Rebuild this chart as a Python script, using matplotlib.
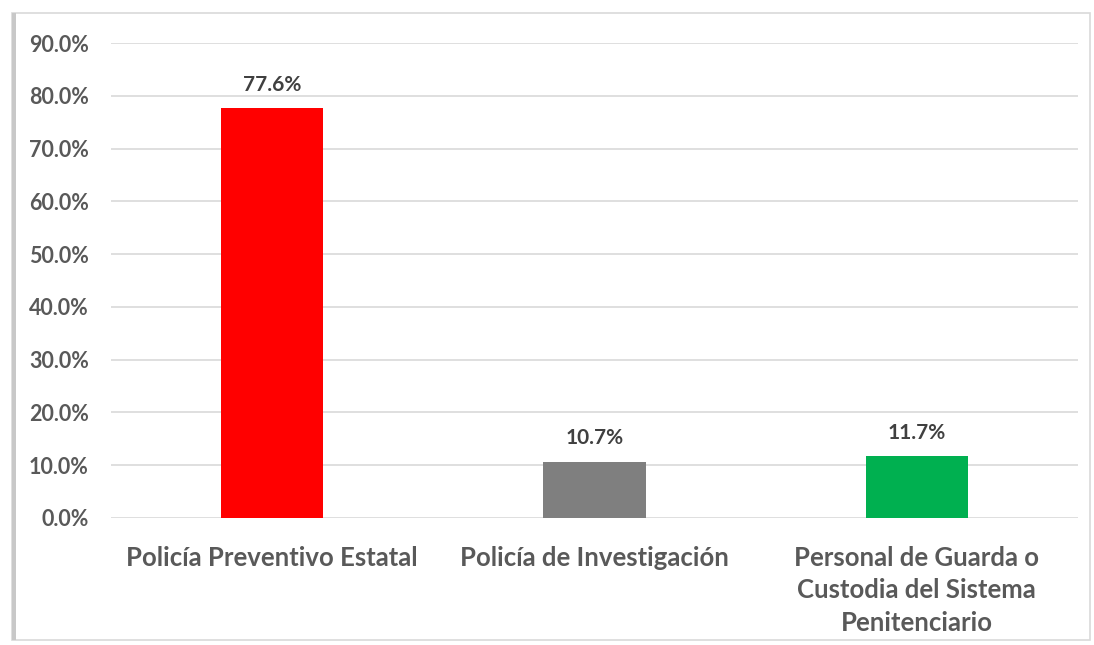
import matplotlib.pyplot as plt
from matplotlib.patches import Rectangle
from matplotlib.ticker import PercentFormatter

# Data
categories = ["Policía Preventivo Estatal", "Policía de Investigación",
              "Personal de Guarda o\nCustodia del Sistema\nPenitenciario"]
values = [77.6, 10.7, 11.7]
colors = ["#FF0000", "#7F7F7F", "#00B050"]
y_ticks = [0, 10, 20, 30, 40, 50, 60, 70, 80, 90]

plt.rcParams['font.family'] = ['Lato', 'DejaVu Sans']
plt.rcParams['font.weight'] = 'bold'

fig = plt.figure(figsize=(10.94, 6.45), dpi=100)

# chart frame with a soft shadow on the left
fig.patches.append(Rectangle((0.011, 0.008), 0.985, 0.972, transform=fig.transFigure,
                             fill=False, edgecolor="#D9D9D9", linewidth=1.2))
fig.patches.append(Rectangle((0.011, 0.008), 0.004, 0.972, transform=fig.transFigure,
                             facecolor="#C8C8C8", edgecolor="none"))

ax = fig.add_axes([0.1015, 0.1969, 0.8839, 0.7364])
x = range(len(categories))
bars = ax.bar(x, values, width=0.317, color=colors, zorder=3)

for b, v in zip(bars, values):
    ax.text(b.get_x() + b.get_width() / 2, v + 2.5, f"{v:.1f}%", ha="center", va="bottom",
            fontsize=15, fontweight="bold", color="#404040")

ax.set_xlim(-0.5, 2.5)
ax.set_ylim(0, 90)
ax.set_yticks(y_ticks)
ax.yaxis.set_major_formatter(PercentFormatter(decimals=1))
ax.grid(axis="y", color="#D9D9D9", linewidth=1.2, zorder=0)
for s in ax.spines.values():
    s.set_visible(False)
ax.tick_params(axis="both", length=0, colors="#595959")
ax.tick_params(axis="y", labelsize=15.5, pad=16)
ax.set_xticks(list(x))
ax.set_xticklabels(categories, fontsize=18.5, fontweight="bold", color="#595959",
                   linespacing=1.42)
ax.tick_params(axis="x", pad=20)

plt.savefig("out.png", dpi=100)
